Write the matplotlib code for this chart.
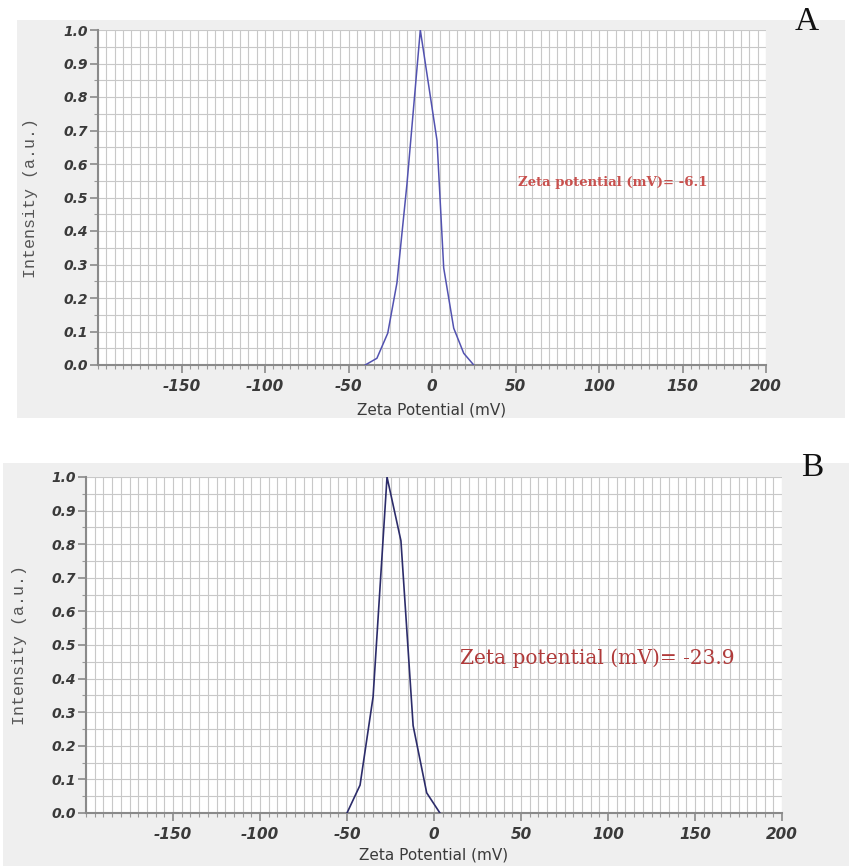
import matplotlib
matplotlib.use("Agg")
import matplotlib.pyplot as plt
from matplotlib.patches import Rectangle
from matplotlib.ticker import MultipleLocator

# Panel A data
zeta_a = [-40, -33, -26.5, -21, -15, -7, 3, 7, 13, 19, 25]
inten_a = [0.0, 0.02, 0.095, 0.245, 0.54, 1.0, 0.67, 0.29, 0.11, 0.035, 0.0]
# Panel B data
zeta_b = [-50, -42.5, -35, -27, -19, -12, -4.2, 3.4]
inten_b = [0.0, 0.083, 0.346, 1.0, 0.81, 0.26, 0.06, 0.0]

xticks = [-150, -100, -50, 0, 50, 100, 150, 200]
yticks = [0.0, 0.1, 0.2, 0.3, 0.4, 0.5, 0.6, 0.7, 0.8, 0.9, 1.0]
panel_labels = ["A", "B"]
annotations = ["Zeta potential (mV)= -6.1", "Zeta potential (mV)= -23.9"]

W, H = 849, 866
fig = plt.figure(figsize=(W / 100, H / 100), dpi=100)
fig.patch.set_facecolor("white")

def fx(px):
    return px / W

def fy(py):
    return 1 - py / H

# gray backgrounds
fig.patches.append(Rectangle((fx(17), fy(418)), fx(845) - fx(17), fy(20) - fy(418),
                             transform=fig.transFigure, facecolor="#efefef", edgecolor="none", zorder=-5))
fig.patches.append(Rectangle((fx(3), fy(866)), fx(849) - fx(3), fy(463) - fy(866),
                             transform=fig.transFigure, facecolor="#efefef", edgecolor="none", zorder=-5))

axA = fig.add_axes([fx(98), fy(365), fx(766) - fx(98), fy(30) - fy(365)])
axB = fig.add_axes([fx(86), fy(813), fx(782) - fx(86), fy(477) - fy(813)])

def style(ax, ylab_x, xlab_pad):
    ax.set_facecolor("white")
    ax.set_xlim(-200, 200)
    ax.set_ylim(0, 1.0)
    ax.xaxis.set_minor_locator(MultipleLocator(5))
    ax.yaxis.set_minor_locator(MultipleLocator(0.05))
    ax.set_xticks(xticks)
    ax.set_yticks(yticks)
    ax.set_xticklabels([str(v) for v in xticks])
    ax.set_yticklabels(["%.1f" % v for v in yticks])
    ax.grid(True, which="both", color="#c8c8c8", linewidth=0.8)
    ax.set_axisbelow(True)
    for s in ["top", "right"]:
        ax.spines[s].set_visible(False)
    for s in ["left", "bottom"]:
        ax.spines[s].set_color("#8a8a8a")
        ax.spines[s].set_linewidth(1.5)
    ax.tick_params(which="major", length=6, color="#8a8a8a", width=1.2)
    ax.tick_params(which="minor", length=3, color="#999999", width=0.8)
    for lab in ax.get_yticklabels():
        lab.set_family("DejaVu Sans")
        lab.set_fontweight("bold")
        lab.set_fontstyle("italic")
        lab.set_fontsize(10)
        lab.set_color("#3a3a3a")
    for lab in ax.get_xticklabels():
        lab.set_family("DejaVu Sans")
        lab.set_fontweight("bold")
        lab.set_fontstyle("italic")
        lab.set_fontsize(11)
        lab.set_color("#3a3a3a")
    ax.tick_params(axis="x", pad=4)
    ax.tick_params(axis="y", pad=1)
    ax.set_xlabel("Zeta Potential (mV)", family="DejaVu Sans", fontsize=11, color="#3a3a3a", labelpad=xlab_pad)
    ax.set_ylabel("Intensity (a.u.)", family="Liberation Mono", fontsize=12, color="#555555")
    pos = ax.get_position()
    ax.yaxis.set_label_coords((fx(ylab_x) - pos.x0) / pos.width, 0.5)

style(axA, 38, 6)
style(axB, 27, 4)

axA.plot(zeta_a, inten_a, color="#5252b0", linewidth=1.1, zorder=3)
axB.plot(zeta_b, inten_b, color="#2c2c6a", linewidth=1.2, zorder=3)

axA.text(51.5, 0.546, annotations[0], family="DejaVu Serif", fontsize=9.5, fontweight="bold",
         color="#c8504d", va="center", ha="left")
axB.text(15, 0.46, annotations[1], family="DejaVu Serif", fontsize=14.5,
         color="#b03a3a", va="center", ha="left")

fig.text(fx(807), fy(22), panel_labels[0], family="Liberation Serif", fontsize=24, ha="center", va="center", color="#111111")
fig.text(fx(812), fy(468), panel_labels[1], family="Liberation Serif", fontsize=24, ha="center", va="center", color="#111111")

fig.savefig("out.png", dpi=100, facecolor=fig.get_facecolor())
